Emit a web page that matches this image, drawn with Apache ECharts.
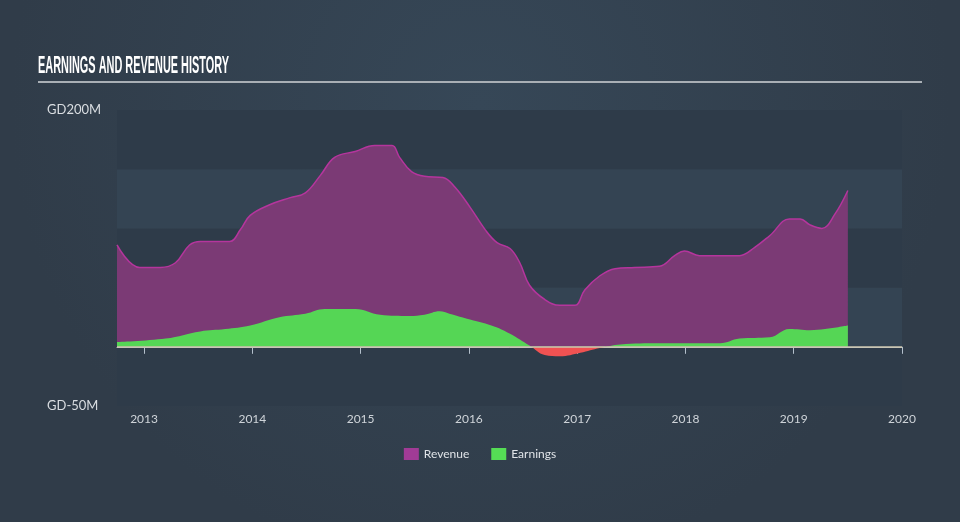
<!DOCTYPE html>
<html><head><meta charset="utf-8">
<script src="https://cdn.jsdelivr.net/npm/echarts@6/dist/echarts.min.js"></script>
<style>html,body{margin:0;padding:0;background:#323f4d;}#c{width:960px;height:522px;}</style>
</head><body><div id="c"></div>
<script>
const title = 'EARNINGS AND REVENUE HISTORY';
const xTicks = [2013, 2014, 2015, 2016, 2017, 2018, 2019, 2020];
const yTicks = [-50, 200];
const revenueDates = [2012.75, 2012.96, 2013.15, 2013.29, 2013.42, 2013.52, 2013.79, 2013.89, 2013.98, 2014.16, 2014.35, 2014.49, 2014.63, 2014.76, 2014.95, 2015.13, 2015.29, 2015.36, 2015.47, 2015.59, 2015.76, 2015.87, 2016.01, 2016.15, 2016.26, 2016.38, 2016.47, 2016.56, 2016.70, 2016.84, 2016.98, 2017.07, 2017.21, 2017.35, 2017.53, 2017.76, 2017.90, 2017.99, 2018.13, 2018.32, 2018.50, 2018.64, 2018.78, 2018.96, 2019.06, 2019.15, 2019.26, 2019.38, 2019.50];
const revenueValues = [86, 67, 67, 71, 86, 89, 89, 99, 111, 120, 126, 130, 145, 160, 165, 170, 170, 160, 148, 144, 143, 135, 118, 99, 88, 83, 71, 52, 40, 35, 35, 48, 60, 66, 67, 68, 77, 81, 77, 77, 77, 84, 94, 108, 108, 103, 100, 112, 132];
const earningsDates = [2012.75, 2013.20, 2013.52, 2013.75, 2013.98, 2014.25, 2014.49, 2014.67, 2014.95, 2015.18, 2015.45, 2015.59, 2015.73, 2015.82, 2016.01, 2016.24, 2016.38, 2016.56, 2016.70, 2016.84, 2017.03, 2017.21, 2017.40, 2017.76, 2018.32, 2018.50, 2018.78, 2018.96, 2019.15, 2019.29, 2019.50];
const earningsValues = [4, 7, 13, 15, 18, 25, 28, 32, 32, 27, 26, 27, 30, 28, 23, 17, 11, 1, -7, -8, -5, -1, 2, 3, 3, 7, 8, 15, 14, 15, 18];

const zip = (a, b) => a.map((v, i) => [v, b[i]]);
const titleFont = 'bold 23px "Liberation Sans", sans-serif';
const mctx = document.createElement('canvas').getContext('2d');
mctx.font = titleFont;
const titleScale = 191 / mctx.measureText(title).width;

const chart = echarts.init(document.getElementById('c'));
chart.setOption({
  backgroundColor: {type: 'radial', x: 0.5, y: 0.2, r: 0.9, colorStops: [{offset: 0, color: '#364757'}, {offset: 1, color: '#303c49'}]},
  animation: false,
  graphic: [
    {type: 'text', x: 38, y: 55, scaleX: titleScale, style: {text: title, fill: '#ffffff', font: titleFont}},
    {type: 'rect', shape: {x: 38, y: 81, width: 884, height: 2}, style: {fill: '#a9afb5'}}
  ],
  grid: {left: 117, right: 58, top: 110, bottom: 116},
  legend: {
    bottom: 57, left: 'center', icon: 'rect', itemWidth: 15, itemHeight: 12, itemGap: 22,
    data: [{name: 'Revenue', itemStyle: {color: '#a13b96'}}, {name: 'Earnings', itemStyle: {color: '#55dd55'}}],
    textStyle: {color: '#dfe3e7', fontSize: 12, fontFamily: 'Lato, sans-serif'}
  },
  xAxis: {
    type: 'value', min: 2012.75, max: 2020,
    axisLine: {show: true, lineStyle: {color: '#b4c0cc', width: 1}},
    axisTick: {show: true, customValues: xTicks, length: 7, lineStyle: {color: '#b4c0cc'}},
    axisLabel: {customValues: xTicks, color: '#cfd4d9', fontSize: 12, margin: 7, fontFamily: 'Lato, sans-serif', formatter: v => String(v)},
    splitLine: {show: false}
  },
  yAxis: {
    type: 'value', min: -50, max: 200, interval: 50,
    axisLine: {show: false}, axisTick: {show: false},
    axisLabel: {customValues: yTicks, color: '#d9dde1', fontSize: 13, align: 'left', margin: 70, fontFamily: 'Lato, sans-serif', formatter: v => 'GD' + v + 'M'},
    splitLine: {show: false},
    splitArea: {show: true, areaStyle: {color: ['#2e3b49', '#344453']}}
  },
  visualMap: {
    show: false, type: 'piecewise', seriesIndex: 1, dimension: 1,
    pieces: [{gte: -1000, lt: 0, color: '#f05252'}, {gte: 0, lte: 1000, color: '#55d655'}]
  },
  series: [
    {
      name: 'Revenue', type: 'line', smooth: 0.4, symbol: 'none',
      data: zip(revenueDates, revenueValues),
      lineStyle: {color: '#b5359d', width: 1.5},
      itemStyle: {color: '#a13b96'},
      areaStyle: {color: '#7b3a75', opacity: 1},
      markLine: {silent: true, symbol: 'none', label: {show: false}, lineStyle: {color: '#cfc8b0', type: 'solid', width: 1.5}, data: [{yAxis: 0}], z: 10}
    },
    {
      name: 'Earnings', type: 'line', smooth: 0.4, symbol: 'none',
      data: zip(earningsDates, earningsValues),
      lineStyle: {width: 0},
      itemStyle: {color: '#55dd55'},
      areaStyle: {opacity: 1}
    }
  ]
});
</script></body></html>
